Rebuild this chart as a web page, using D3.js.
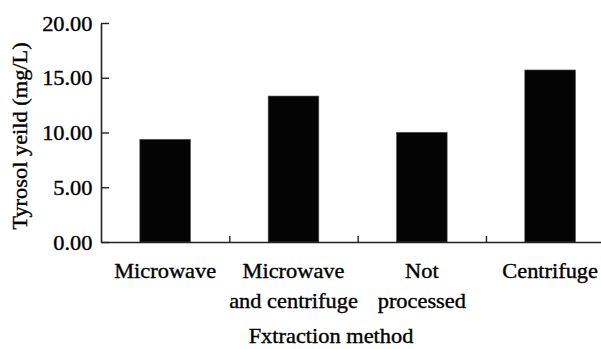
<!DOCTYPE html>
<html>
<head>
<meta charset="utf-8">
<script src="https://cdn.jsdelivr.net/npm/d3@7/dist/d3.min.js"></script>
<style>
  html, body { margin: 0; padding: 0; background: #fff; }
  svg { display: block; }
  text { stroke: #000; stroke-width: 0.35px; }
</style>
</head>
<body>
<svg id="chart" width="601" height="349"></svg>
<script>
// Tyrosol yield by extraction method
const categories = [
  ["Microwave"],
  ["Microwave", "and centrifuge"],
  ["Not", "processed"],
  ["Centrifuge"]
];
const yields = [9.38, 13.33, 10.02, 15.71];
const yTicks = [0, 5, 10, 15, 20];
const yTitle = "Tyrosol yeild (mg/L)";
const xTitle = "Fxtraction method";

const plotLeft = 101, plotRight = 614.3, plotTop = 23, plotBottom = 242;
const stretch = 1.12;   // wide serif glyphs
const fontSize = 20;
const serif = "Liberation Serif, Times New Roman, Times, DejaVu Serif, serif";

const svg = d3.select("#chart");

const keys = categories.map(c => c.join(" "));
const x = d3.scaleBand()
  .domain(keys)
  .range([plotLeft, plotRight])
  .paddingInner(0.605)
  .paddingOuter(0.3025);

const xEdges = d3.scaleLinear().domain([0, categories.length]).range([plotLeft, plotRight]);

const y = d3.scaleLinear().domain([0, 20]).range([plotBottom, plotTop]);

// bars
svg.append("g")
  .selectAll("rect")
  .data(yields)
  .join("rect")
  .attr("x", (d, i) => x(keys[i]))
  .attr("width", x.bandwidth())
  .attr("y", d => y(d))
  .attr("height", d => y(0) - y(d))
  .attr("fill", "#040404")
  .attr("stroke", "#555")
  .attr("stroke-width", 0.6);

// y axis with inward ticks
const yAxis = svg.append("g")
  .attr("transform", `translate(${plotLeft},0)`)
  .call(d3.axisLeft(y)
    .tickValues(yTicks)
    .tickFormat(d3.format(".2f"))
    .tickSizeInner(-8)
    .tickSizeOuter(0)
    .tickPadding(8))
  .attr("font-family", serif)
  .attr("font-size", fontSize);
yAxis.select(".domain").attr("stroke", "#222").attr("stroke-width", 1.6);
yAxis.selectAll(".tick line").attr("stroke", "#222").attr("stroke-width", 1.4);
yAxis.selectAll(".tick text")
  .attr("x", -8.5 / stretch)
  .attr("dy", "0.36em")
  .attr("transform", `scale(${stretch},1)`)
  .attr("fill", "#000");

// x axis line with inward ticks at category boundaries
const xAxis = svg.append("g")
  .attr("transform", `translate(0,${plotBottom})`)
  .call(d3.axisBottom(xEdges)
    .tickValues(d3.range(1, categories.length))
    .tickFormat("")
    .tickSizeInner(-6)
    .tickSizeOuter(0));
xAxis.select(".domain").attr("stroke", "#222").attr("stroke-width", 1.6);
xAxis.selectAll(".tick line").attr("stroke", "#222").attr("stroke-width", 1.4);

// category labels, one or two lines each
const lab = svg.append("g")
  .attr("font-family", serif)
  .attr("font-size", fontSize)
  .selectAll("text")
  .data(categories)
  .join("text")
  .attr("transform", (d, i) => `translate(${x(keys[i]) + x.bandwidth() / 2},${plotBottom + 36.3}) scale(${stretch},1)`)
  .attr("text-anchor", "middle");
lab.selectAll("tspan")
  .data(d => d)
  .join("tspan")
  .attr("x", 0)
  .attr("y", (d, i) => i * 30)
  .text(d => d);

// axis titles
const titles = svg.append("g")
  .attr("font-family", serif)
  .attr("font-size", fontSize)
  .attr("text-anchor", "middle");

titles.append("text")
  .attr("transform", `translate(331,343.3) scale(${stretch},1)`)
  .text(xTitle);

titles.append("text")
  .attr("transform", `translate(26.5,136) rotate(-90) scale(${stretch},1)`)
  .text(yTitle);
</script>
</body>
</html>
